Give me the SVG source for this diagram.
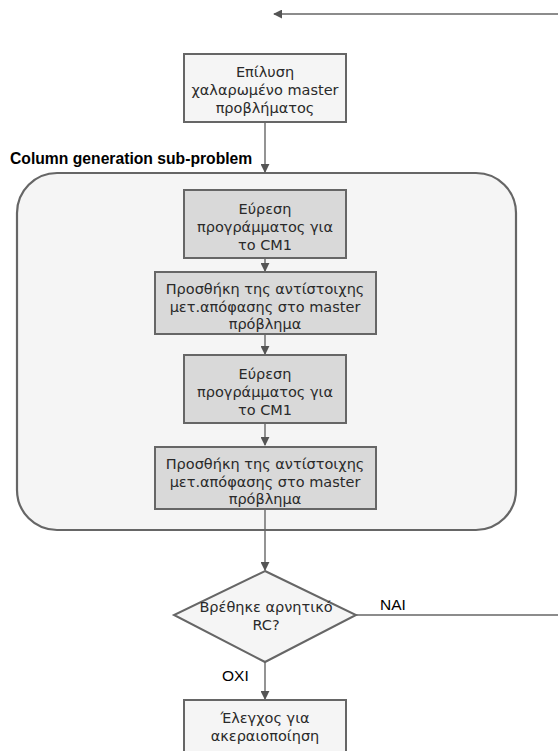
<svg xmlns="http://www.w3.org/2000/svg" width="558" height="751" viewBox="0 0 558 751">
  <style>
    .lbl { font-family: "DejaVu Sans", "Liberation Sans", Arial, sans-serif; font-size: 14.5px; fill: #2a2a2a; text-anchor: middle; }
    .edge { fill: none; stroke: #666; stroke-width: 1.4; }
    .proc { fill: #f5f5f5; stroke: #666; stroke-width: 2; }
    .step { fill: #d9d9d9; stroke: #666; stroke-width: 2; }
    .title { font-family: "Liberation Sans", Arial, Helvetica, sans-serif; font-size: 15.7px; font-weight: bold; fill: #000; }
    .tag { font-family: "Liberation Sans", Arial, Helvetica, sans-serif; font-size: 15.5px; fill: #000; }
  </style>
  <defs>
    <marker id="arrow" viewBox="0 0 10 10" refX="9" refY="5" markerWidth="9" markerHeight="9" markerUnits="userSpaceOnUse" orient="auto">
      <path d="M0,0 L10,5 L0,10 Z" fill="#555"/>
    </marker>
  </defs>

  <rect width="558" height="751" fill="#ffffff"/>

  <!-- sub-problem container -->
  <g id="subproblem">
    <rect x="17" y="173" width="499" height="357" rx="40" ry="40" fill="#f5f5f5" stroke="#666" stroke-width="2.2"/>
    <text class="title" x="10" y="164">Column generation sub-problem</text>
  </g>

  <!-- connectors -->
  <g id="connectors">
    <line class="edge" x1="558" y1="14" x2="274" y2="14" marker-end="url(#arrow)"/>
    <line class="edge" x1="265" y1="122" x2="265" y2="172" marker-end="url(#arrow)"/>
    <line class="edge" x1="265" y1="258" x2="265" y2="271" marker-end="url(#arrow)"/>
    <line class="edge" x1="265" y1="334" x2="265" y2="354" marker-end="url(#arrow)"/>
    <line class="edge" x1="265" y1="423" x2="265" y2="445" marker-end="url(#arrow)"/>
    <line class="edge" x1="265" y1="509" x2="265" y2="570" marker-end="url(#arrow)"/>
    <line class="edge" x1="356" y1="615" x2="558" y2="615"/>
    <line class="edge" x1="265" y1="662" x2="265" y2="699" marker-end="url(#arrow)"/>
    <text class="tag" x="380" y="610">NAI</text>
    <text class="tag" x="222" y="681">OXI</text>
  </g>

  <!-- relaxed master problem -->
  <g id="solve-master">
    <rect class="proc" x="184" y="54" width="162" height="68"/>
    <text class="lbl" x="265" y="77">Επίλυση</text>
    <text class="lbl" x="265" y="95">χαλαρωμένο master</text>
    <text class="lbl" x="265" y="113">προβλήματος</text>
  </g>

  <g id="find-schedule-1">
    <rect class="step" x="184" y="190" width="162" height="68"/>
    <text class="lbl" x="265" y="214">Εύρεση</text>
    <text class="lbl" x="265" y="232">προγράμματος για</text>
    <text class="lbl" x="265" y="250">το CM1</text>
  </g>

  <g id="add-column-1">
    <rect class="step" x="155" y="272" width="221" height="62"/>
    <text class="lbl" x="265" y="294">Προσθήκη της αντίστοιχης</text>
    <text class="lbl" x="265" y="312">μετ.απόφασης στο master</text>
    <text class="lbl" x="265" y="329">πρόβλημα</text>
  </g>

  <g id="find-schedule-2">
    <rect class="step" x="184" y="355" width="162" height="68"/>
    <text class="lbl" x="265" y="379">Εύρεση</text>
    <text class="lbl" x="265" y="397">προγράμματος για</text>
    <text class="lbl" x="265" y="415">το CM1</text>
  </g>

  <g id="add-column-2">
    <rect class="step" x="155" y="447" width="221" height="62"/>
    <text class="lbl" x="265" y="469">Προσθήκη της αντίστοιχης</text>
    <text class="lbl" x="265" y="487">μετ.απόφασης στο master</text>
    <text class="lbl" x="265" y="504">πρόβλημα</text>
  </g>

  <g id="negative-rc">
    <polygon points="265,571 356,615 265,662 174,615" fill="#f5f5f5" stroke="#666" stroke-width="2"/>
    <text class="lbl" x="266" y="612">Βρέθηκε αρνητικό</text>
    <text class="lbl" x="266" y="630">RC?</text>
  </g>

  <g id="integrality-check">
    <rect class="proc" x="184" y="700" width="162" height="60"/>
    <text class="lbl" x="265" y="723">Έλεγχος για</text>
    <text class="lbl" x="265" y="741">ακεραιοποίηση</text>
  </g>
</svg>
